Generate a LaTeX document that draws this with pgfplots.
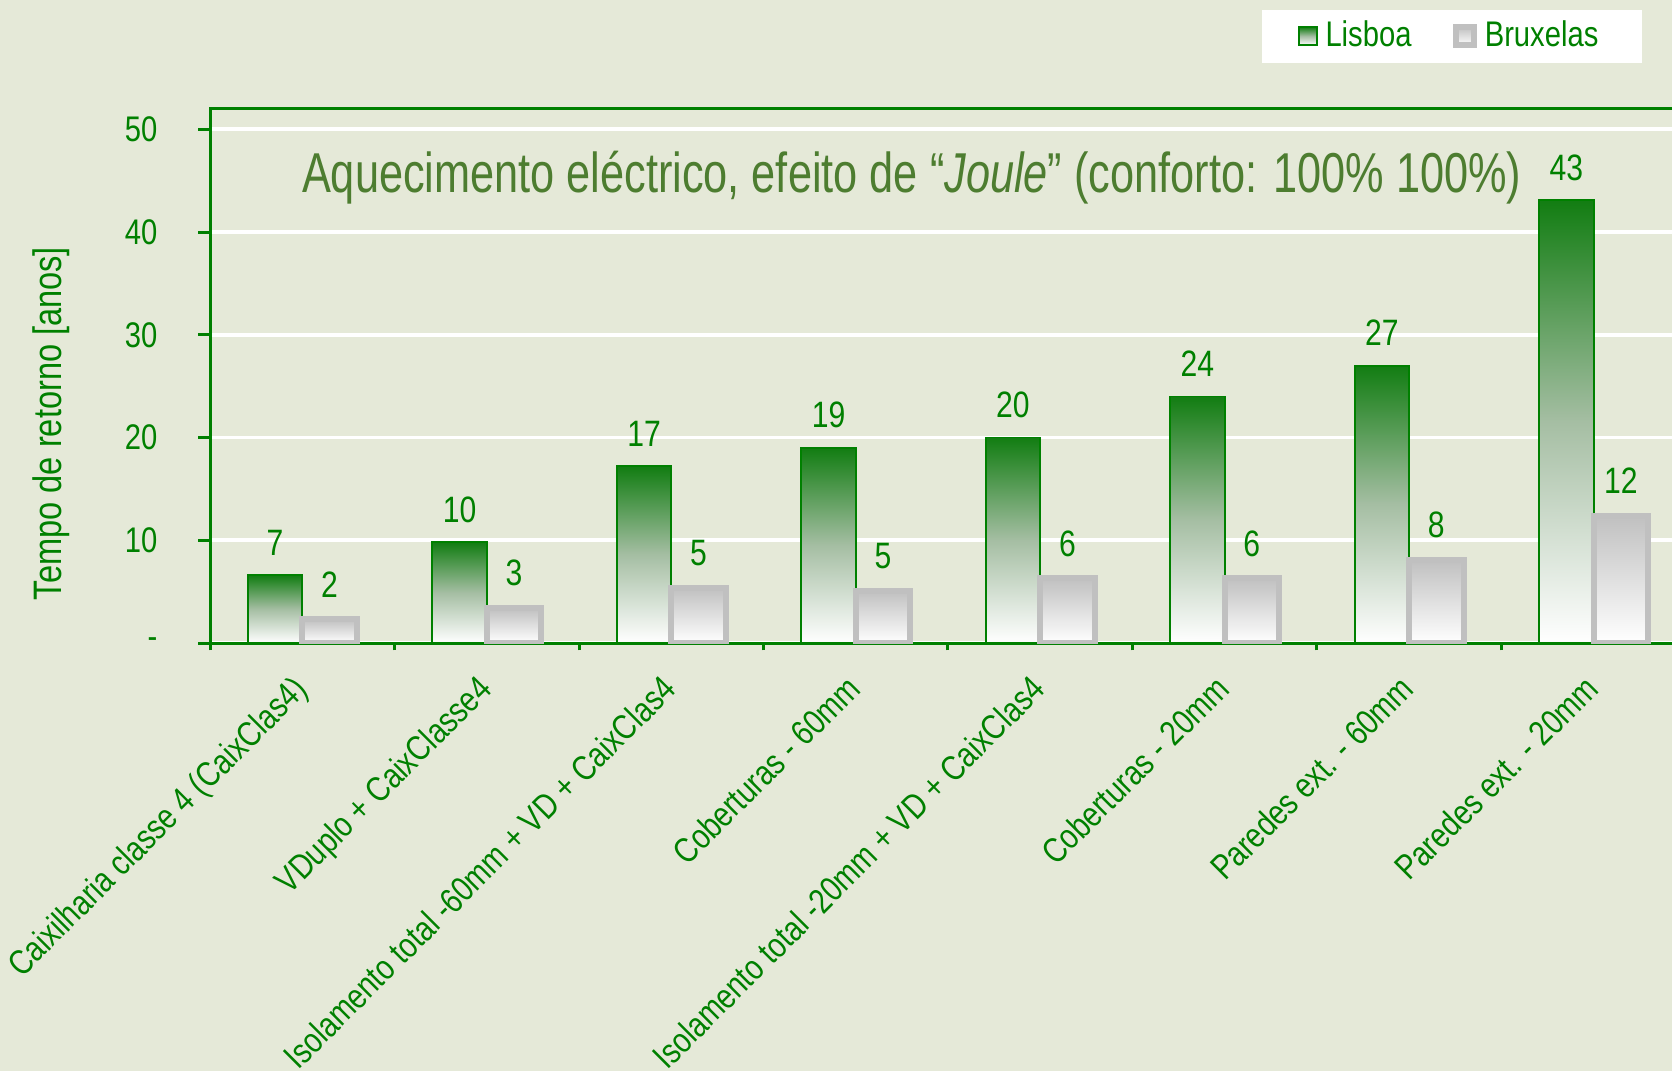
\documentclass[border=0pt]{standalone}
\usepackage{fontspec}
\setmainfont[FakeStretch=0.82]{Liberation Sans}
\newfontfamily\titlefam[FakeStretch=0.77]{Liberation Sans}
\usepackage{pgfplots}
\pgfplotsset{compat=1.18}

\definecolor{bg}{RGB}{229,233,216}
\definecolor{txtgreen}{RGB}{0,128,0}
\definecolor{titlegreen}{RGB}{77,125,48}
\definecolor{lisTop}{RGB}{18,125,18}
\definecolor{lisMid}{RGB}{165,190,163}
\definecolor{bruxGray}{RGB}{192,192,192}

\newcommand{\tickfont}{\fontsize{9.5pt}{11pt}\selectfont}
\newcommand{\catfont}{\fontsize{9.35pt}{11pt}\selectfont}
\newcommand{\labfont}{\fontsize{10.6pt}{12pt}\selectfont}
\newcommand{\valfont}{\fontsize{9.8pt}{11pt}\selectfont}
\newcommand{\titlefont}{\titlefam\fontsize{15pt}{17pt}\selectfont}

\pgfplotsset{
  sqlegend/.style={legend image code/.code={%
    \draw[##1] (0cm,-0.085cm) rectangle (0.17cm,0.085cm);}},
  lis/.style={ybar, bar width=0.51cm, bar shift=-0.255cm, draw=txtgreen,
    line width=0.5pt, top color=lisTop, bottom color=white,
    middle color=lisMid, sqlegend,
    every node near coord/.append style={xshift=-0.255cm}},
  brux/.style={ybar, bar width=0.51cm, bar shift=0.255cm, draw=bruxGray,
    line width=1.6pt, top color=bruxGray, bottom color=white, sqlegend,
    every node near coord/.append style={xshift=0.255cm}},
}

\begin{document}
\begin{tikzpicture}
\fill[bg] (-1.97,-4.01) rectangle (13.71,6.03);
\begin{axis}[
  scale only axis, width=13.84cm, height=5.01cm,
  xmin=-0.5, xmax=7.5, ymin=0, ymax=52,
  axis line style={txtgreen, line width=0.8pt},
  tick style={txtgreen, line width=0.8pt},
  xtick pos=bottom, ytick pos=left,
  tick align=outside, major tick length=0.11cm, minor tick length=0.07cm,
  xtick={0,...,7}, major x tick style={draw=none},
  minor xtick={-0.5,0.5,...,7.5},
  xticklabels={Caixilharia classe 4 (CaixClas4), VDuplo + CaixClasse4,
    Isolamento total -60mm + VD + CaixClas4, Coberturas - 60mm,
    Isolamento total -20mm + VD + CaixClas4, Coberturas - 20mm,
    Paredes ext. - 60mm, Paredes ext. - 20mm},
  x tick label style={xshift=-0.106cm, yshift=0cm, rotate=45,
    anchor=north east, font=\catfont, text=txtgreen},
  ytick={0,10,...,50}, yticklabels={-,10,20,30,40,50},
  y tick label style={font=\tickfont, text=txtgreen, xshift=-0.26cm},
  ymajorgrids, y grid style={white, line width=1pt},
  ylabel={Tempo de retorno [anos]},
  ylabel style={at={(axis description cs:-0.1077,0.411)}, anchor=center,
    font=\labfont, text=txtgreen},
  /pgf/number format/fixed, /pgf/number format/precision=0,
  /pgf/number format/assume math mode=true,
  nodes near coords,
  every node near coord/.append style={font=\valfont, text=txtgreen,
    anchor=south, yshift=0.06cm},
  legend style={at={(rel axis cs:0.8415,1.136)}, anchor=center, fill=white,
    draw=none, legend columns=2, font=\tickfont, text=txtgreen,
    /tikz/every even column/.append style={column sep=0.32cm},
    inner xsep=0.34cm, inner ysep=0.03cm},
]
% Lisboa
\addplot[lis] coordinates {(0,6.6)};
\addplot[lis, forget plot] coordinates {(1,9.8)};
\addplot[lis, forget plot] coordinates {(2,17.2)};
\addplot[lis, forget plot] coordinates {(3,19.0)};
\addplot[lis, forget plot] coordinates {(4,20.0)};
\addplot[lis, forget plot] coordinates {(5,24.0)};
\addplot[lis, forget plot] coordinates {(6,27.0)};
\addplot[lis, forget plot] coordinates {(7,43.1)};
% Bruxelas
\addplot[brux] coordinates {(0,2.3)};
\addplot[brux, forget plot] coordinates {(1,3.4)};
\addplot[brux, forget plot] coordinates {(2,5.4)};
\addplot[brux, forget plot] coordinates {(3,5.1)};
\addplot[brux, forget plot] coordinates {(4,6.3)};
\addplot[brux, forget plot] coordinates {(5,6.3)};
\addplot[brux, forget plot] coordinates {(6,8.1)};
\addplot[brux, forget plot] coordinates {(7,12.4)};
\legend{Lisboa, Bruxelas}
\node[font=\titlefont, text=titlegreen] at (rel axis cs:0.4754,0.872)
  {Aquecimento eléctrico, efeito de “\textit{Joule}” (conforto: 100\% 100\%)};
\end{axis}
\pgfresetboundingbox
\useasboundingbox (-1.97,-4.01) rectangle (13.71,6.03);
\end{tikzpicture}
\end{document}
